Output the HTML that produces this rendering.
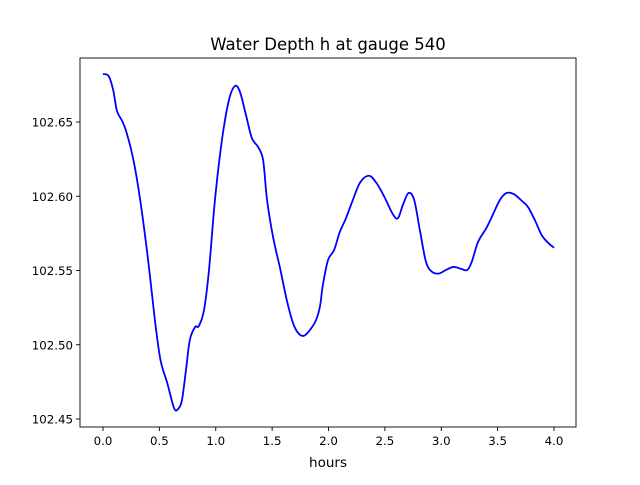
<!DOCTYPE html>
<html><head><meta charset="utf-8"><style>
body{margin:0;background:#fff;}
svg text{font-family:"DejaVu Sans","Liberation Sans",sans-serif;fill:#000;}
</style></head><body>
<svg id="chart" width="640" height="480" xmlns="http://www.w3.org/2000/svg">
<rect x="0" y="0" width="640" height="480" fill="#fff"/>
<g id="plot"></g>
</svg>
<script>
const hours = [0.0,0.05,0.09,0.124,0.17,0.21,0.27,0.33,0.40,0.46,0.51,0.57,0.63,0.665,0.70,0.736,0.77,0.816,0.85,0.896,0.94,0.993,1.055,1.117,1.17,1.215,1.268,1.32,1.375,1.42,1.455,1.51,1.57,1.63,1.685,1.73,1.78,1.836,1.89,1.925,1.95,1.996,2.05,2.10,2.155,2.21,2.28,2.36,2.43,2.50,2.57,2.616,2.66,2.71,2.76,2.81,2.865,2.92,2.98,3.04,3.11,3.18,3.23,3.27,3.326,3.40,3.46,3.52,3.58,3.645,3.716,3.77,3.83,3.89,3.95,4.0];
const depth = [102.6823,102.681,102.6716,102.6574,102.6507,102.6426,102.6244,102.5975,102.5571,102.5167,102.4897,102.4742,102.4574,102.4567,102.4627,102.483,102.5032,102.5119,102.5126,102.5234,102.5503,102.5975,102.6379,102.6648,102.6742,102.6702,102.6547,102.6392,102.6332,102.6244,102.5975,102.5719,102.5517,102.5301,102.5147,102.508,102.506,102.51,102.5167,102.5261,102.5402,102.5571,102.5638,102.5759,102.5852,102.5963,102.6092,102.6138,102.6084,102.5989,102.588,102.5852,102.5942,102.6022,102.5975,102.5773,102.5557,102.549,102.548,102.5503,102.5524,102.551,102.5503,102.5557,102.5692,102.5786,102.588,102.5975,102.6022,102.6014,102.5968,102.5927,102.584,102.5739,102.5685,102.5653];
const xTicks = [0.0,0.5,1.0,1.5,2.0,2.5,3.0,3.5,4.0];
const xTickLabels = ["0.0","0.5","1.0","1.5","2.0","2.5","3.0","3.5","4.0"];
const yTicks = [102.45,102.50,102.55,102.60,102.65];
const yTickLabels = ["102.45","102.50","102.55","102.60","102.65"];

const NS="http://www.w3.org/2000/svg";
const L=80,T=58,R=576,B=427;
function sx(v){return 103+v*112.75;}
function sy(v){return 122+(102.65-v)*1485;}
const g=document.getElementById('plot');
function mk(tag,attrs){const e=document.createElementNS(NS,tag);for(const k in attrs)e.setAttribute(k,attrs[k]);g.appendChild(e);return e;}

const pts=hours.map((h,i)=>[sx(h),sy(depth[i])]);
let d="M"+pts[0][0].toFixed(2)+","+pts[0][1].toFixed(2);
for(let i=0;i<pts.length-1;i++){
  const p0=pts[i-1]||pts[i],p1=pts[i],p2=pts[i+1],p3=pts[i+2]||p2;
  const c1=[p1[0]+(p2[0]-p0[0])/6,p1[1]+(p2[1]-p0[1])/6];
  const c2=[p2[0]-(p3[0]-p1[0])/6,p2[1]-(p3[1]-p1[1])/6];
  d+=" C"+c1[0].toFixed(2)+","+c1[1].toFixed(2)+" "+c2[0].toFixed(2)+","+c2[1].toFixed(2)+" "+p2[0].toFixed(2)+","+p2[1].toFixed(2);
}
const line=mk('path',{d:d,fill:'none',stroke:'#0000ff','stroke-width':1.8,'stroke-linejoin':'round'});



const frame=mk('rect',{x:L,y:T,width:R-L,height:B-T,fill:'none',stroke:'#000','stroke-width':0.9});



xTicks.forEach((v,i)=>{
  const t=mk('line',{x1:sx(v),x2:sx(v),y1:B,y2:B+4,stroke:'#000','stroke-width':0.9});
  
  
  const tx=mk('text',{x:sx(v),y:B+18,'font-size':'11.8','text-anchor':'middle'});
  tx.textContent=xTickLabels[i];
  
  
});
yTicks.forEach((v,i)=>{
  const t=mk('line',{x1:L-4,x2:L,y1:sy(v),y2:sy(v),stroke:'#000','stroke-width':0.9});
  
  
  const tx=mk('text',{x:L-7,y:sy(v)+4.5,'font-size':'11.8','text-anchor':'end'});
  tx.textContent=yTickLabels[i];
  
  
});
const xl=mk('text',{x:328,y:467,'font-size':'13.5','text-anchor':'middle'});
xl.textContent='hours';


const ti=mk('text',{x:328,y:50,'font-size':'16.5','text-anchor':'middle'});
ti.textContent='Water Depth h at gauge 540';


</script>
</body></html>
